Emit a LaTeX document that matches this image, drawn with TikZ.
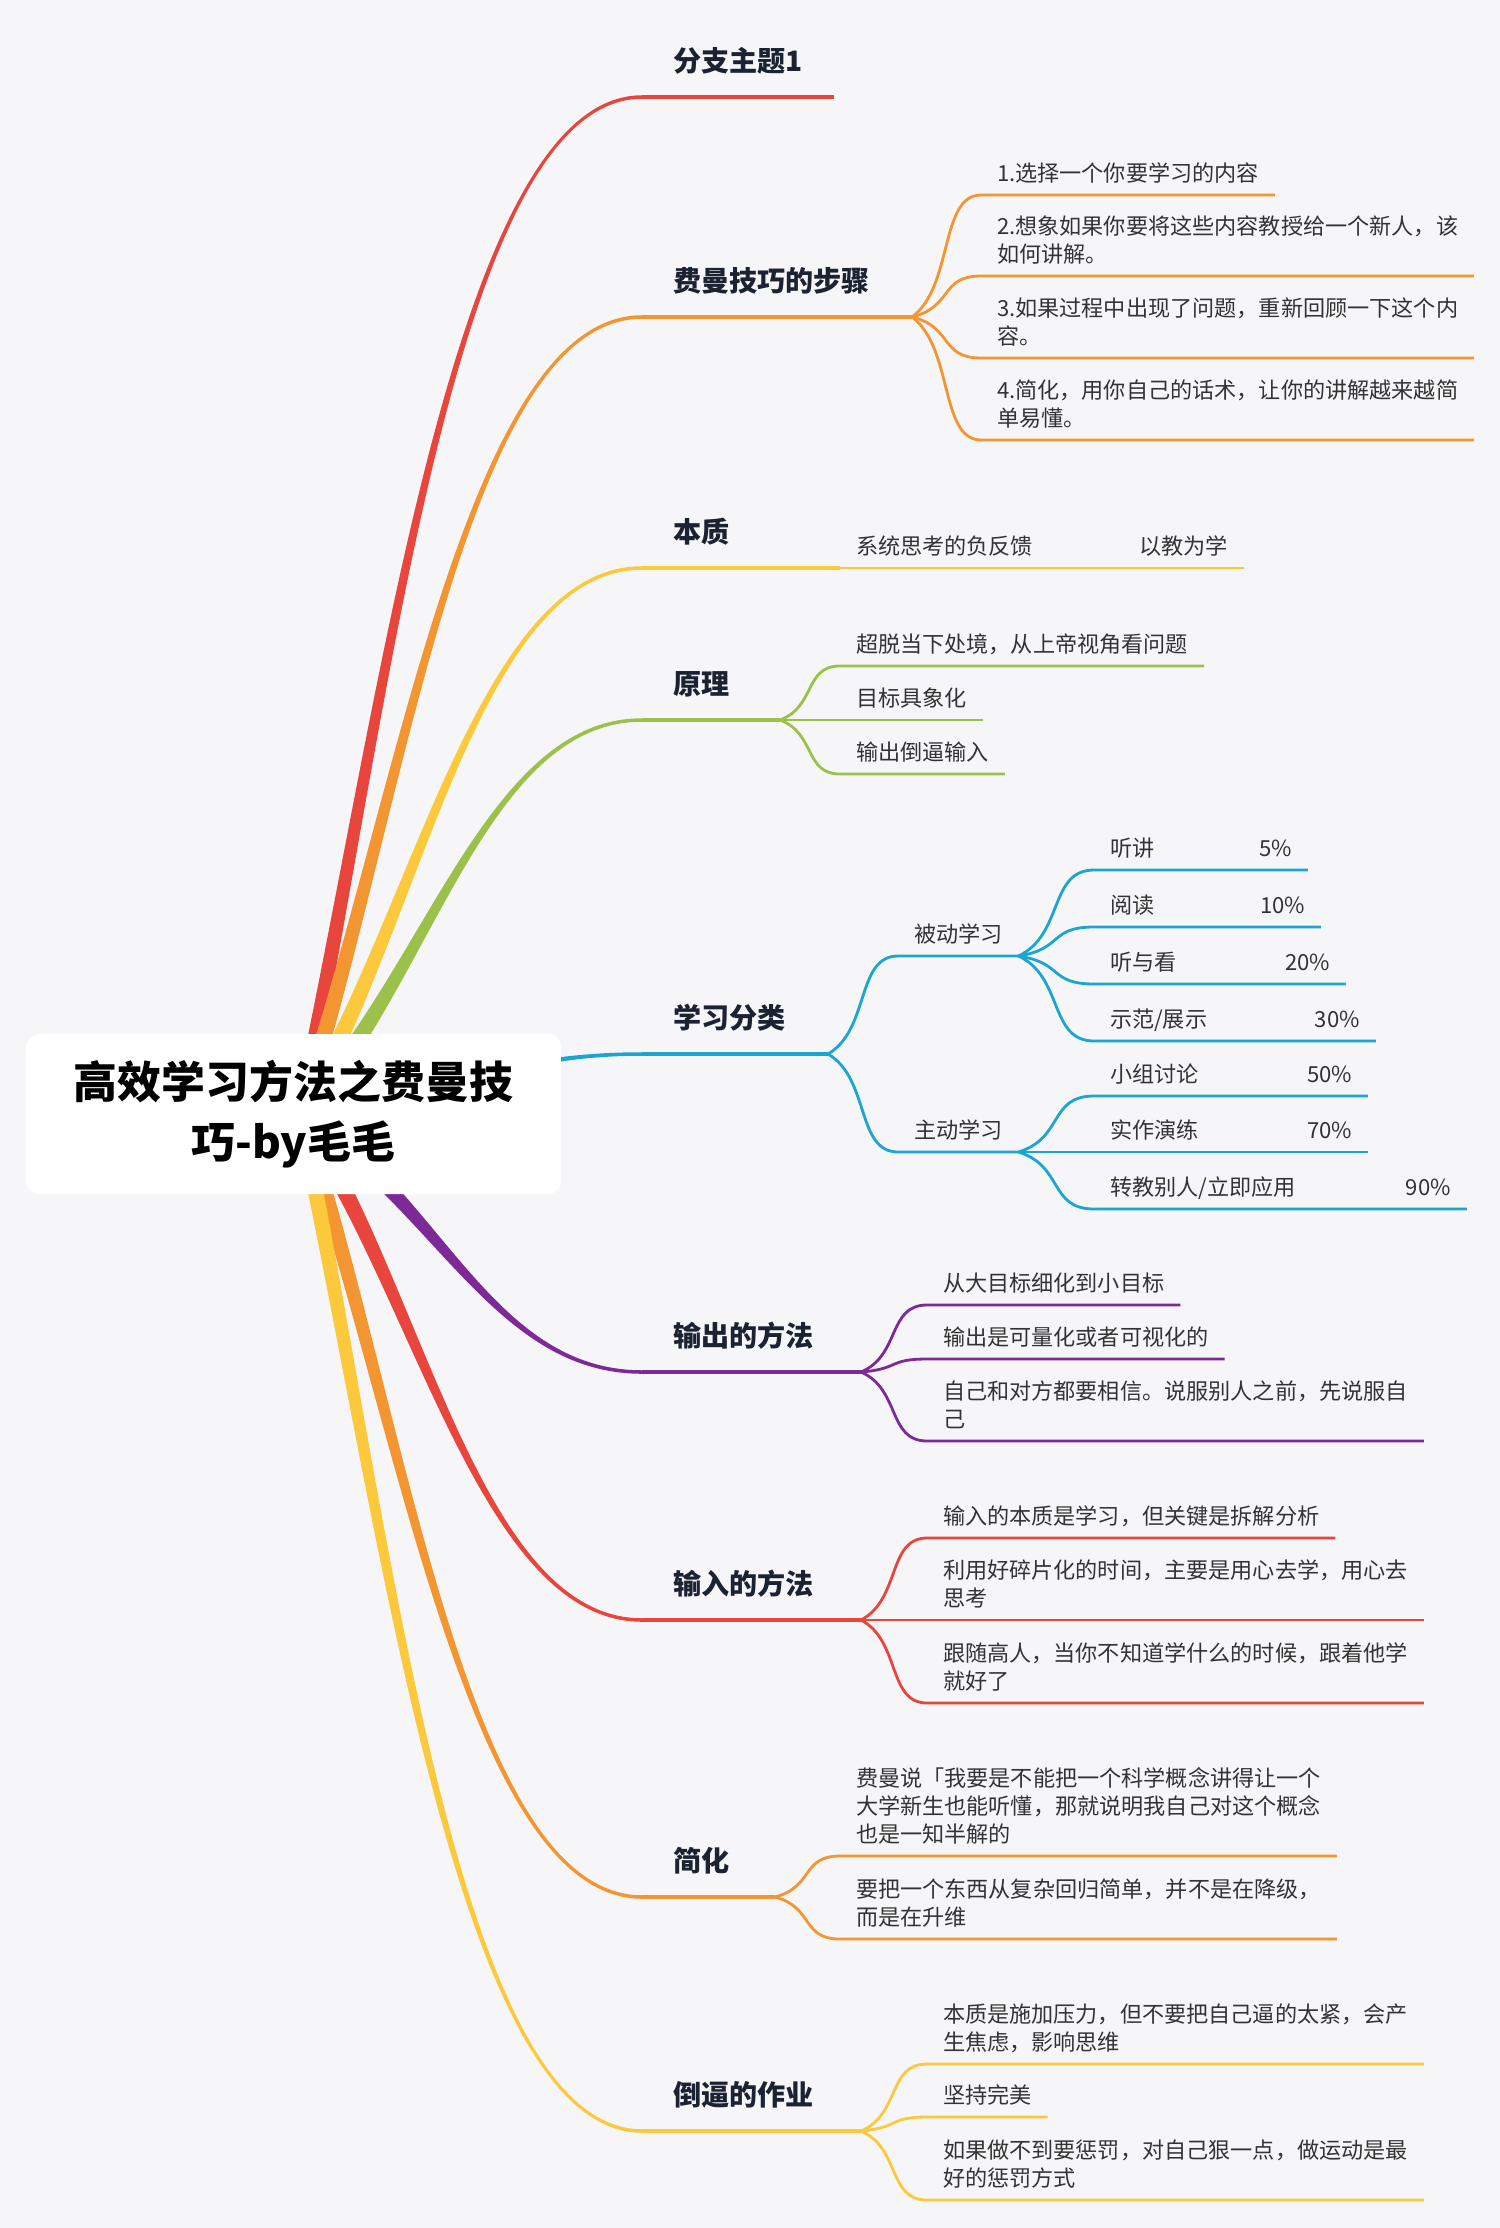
\documentclass[tikz,border=0pt]{standalone}
\usepackage{fontspec}
\setmainfont{Noto Sans CJK SC}
\usetikzlibrary{calc}
\definecolor{paper}{HTML}{F6F6F9}
\definecolor{redb}{HTML}{E8453C}
\definecolor{orangeb}{HTML}{F39530}
\definecolor{yellowb}{HTML}{FCC83C}
\definecolor{greenb}{HTML}{9CC14B}
\definecolor{tealb}{HTML}{1AA6CF}
\definecolor{purpleb}{HTML}{7D2A98}
\definecolor{ink}{HTML}{1B2333}
\definecolor{leafink}{HTML}{333333}
\begin{document}
\begin{tikzpicture}[x=0.02cm, y=-0.02cm,
  root/.style={fill=white, rounded corners=0.25cm, minimum width=10.7cm, minimum height=3.2cm,
    inner sep=0, align=center, font=\bfseries\fontsize{25}{34}\selectfont},
  branch/.style={anchor=south west, outer sep=0, inner xsep=0.62cm, inner ysep=0.39cm,
    text depth=3.2pt, text=ink, font=\bfseries\fontsize{16}{20}\selectfont},
  leaf/.style={anchor=south west, outer sep=0, inner xsep=0.32cm, inner ysep=0.18cm,
    text depth=2.5pt, align=left, text=leafink, font=\fontsize{12.6}{15.9}\selectfont},
  rate/.style={leaf, text width=#1},
  bough/.style={line width=2pt},
  sprig/.style={line width=1.6pt},
  limb/.style={to path={let \p1=(\tikztostart), \p2=(\tikztotarget), \n1={sign(\y2-\y1)},
    \n2={abs(\y2-\y1)/578.7}, \n3={0.45-0.2*\n2}, \n4={0.3+0.1*\n2}, \n5={0.6-0.15*\n2} in
    ({\x1-4pt},{\y1+\n1*4pt})
    .. controls ({\x1+\n3*(\x2-\x1)-2.6pt},{\y1+\n4*(\y2-\y1)+\n1*2.6pt}) and ({\x1+\n5*(\x2-\x1)},{\y2+\n1*1pt})
    .. ({\x2},{\y2+\n1*1pt}) -- ({\x2},{\y2-\n1*1pt})
    .. controls ({\x1+\n5*(\x2-\x1)},{\y2-\n1*1pt}) and ({\x1+\n3*(\x2-\x1)+2.6pt},{\y1+\n4*(\y2-\y1)-\n1*2.6pt})
    .. ({\x1+4pt},{\y1-\n1*4pt}) -- cycle}},
  twig/.style={to path={let \p1=(\tikztostart), \p2=(\tikztotarget) in
    .. controls ({0.4*\x1+0.6*\x2},{0.75*\y1+0.25*\y2}) and ({0.6*\x1+0.4*\x2},{\y2}) .. (\p2)}}]
\fill[paper] (0,0) rectangle (1500,2228);
\useasboundingbox (0,0) rectangle (1500,2228);

\coordinate (hub) at (300,1114);

% main topics
\node[branch] (b1) at (642,97) {分支主题1};
\node[branch] (b2) at (642,317) {费曼技巧的步骤};
\node[branch] (b3) at (642,568) {本质};
\node[branch] (b4) at (642,720) {原理};
\node[branch] (b5) at (642,1054) {学习分类};
\node[branch] (b6) at (642,1372) {输出的方法};
\node[branch] (b7) at (642,1620) {输入的方法};
\node[branch] (b8) at (642,1897) {简化};
\node[branch] (b9) at (642,2131) {倒逼的作业};

\coordinate (b2f) at (912,317);
\coordinate (b4f) at (780,720);
\coordinate (b5f) at (828,1054);
\coordinate (b6f) at (861,1372);
\coordinate (b7f) at (861,1620);
\coordinate (b8f) at (775,1897);
\coordinate (b9f) at (861,2131);

% sub topics
\node[leaf] (k21) at (981,195) {1.选择一个你要学习的内容};
\node[leaf] (k22) at (981,276) {2.想象如果你要将这些内容教授给一个新人，该\\如何讲解。};
\node[leaf] (k23) at (981,358) {3.如果过程中出现了问题，重新回顾一下这个内\\容。};
\node[leaf] (k24) at (981,440) {4.简化，用你自己的话术，让你的讲解越来越简\\单易懂。};

\node[leaf] (k31) at (840,568) {系统思考的负反馈\hspace{2.12cm}以教为学};

\node[leaf] (k41) at (840,666) {超脱当下处境，从上帝视角看问题};
\node[leaf] (k42) at (840,720) {目标具象化};
\node[leaf] (k43) at (840,774) {输出倒逼输入};

\node[leaf] (k51) at (898,956) {被动学习};
\node[leaf] (k52) at (898,1152) {主动学习};
\node[rate=3.64cm] (g1) at (1094,870) {听讲\hfill 5\%};
\node[rate=3.9cm] (g2) at (1094,927) {阅读\hfill 10\%};
\node[rate=4.4cm] (g3) at (1094,984) {听与看\hfill 20\%};
\node[rate=5.0cm] (g4) at (1094,1041) {示范/展示\hfill 30\%};
\node[rate=4.84cm] (g5) at (1094,1096) {小组讨论\hfill 50\%};
\node[rate=4.84cm] (g6) at (1094,1152) {实作演练\hfill 70\%};
\node[rate=6.82cm] (g7) at (1094,1209) {转教别人/立即应用\hfill 90\%};

\node[leaf] (k61) at (927,1305) {从大目标细化到小目标};
\node[leaf] (k62) at (927,1359) {输出是可量化或者可视化的};
\node[leaf] (k63) at (927,1441) {自己和对方都要相信。说服别人之前，先说服自\\己};

\node[leaf] (k71) at (927,1538) {输入的本质是学习，但关键是拆解分析};
\node[leaf] (k72) at (927,1620) {利用好碎片化的时间，主要是用心去学，用心去\\思考};
\node[leaf] (k73) at (927,1703) {跟随高人，当你不知道学什么的时候，跟着他学\\就好了};

\node[leaf] (k81) at (840,1856) {费曼说「我要是不能把一个科学概念讲得让一个\\大学新生也能听懂，那就说明我自己对这个概念\\也是一知半解的};
\node[leaf] (k82) at (840,1939) {要把一个东西从复杂回归简单，并不是在降级，\\而是在升维};

\node[leaf] (k91) at (927,2064) {本质是施加压力，但不要把自己逼的太紧，会产\\生焦虑，影响思维};
\node[leaf] (k92) at (927,2117) {坚持完美};
\node[leaf] (k93) at (927,2200) {如果做不到要惩罚，对自己狠一点，做运动是最\\好的惩罚方式};

% curves out of the centre
\fill[redb] (hub) to[limb] (b1.south west);
\fill[orangeb] (hub) to[limb] (b2.south west);
\fill[yellowb] (hub) to[limb] (b3.south west);
\fill[greenb] (hub) to[limb] (b4.south west);
\fill[tealb] (hub) to[limb] (b5.south west);
\fill[purpleb] (hub) to[limb] (b6.south west);
\fill[redb] (hub) to[limb] (b7.south west);
\fill[orangeb] (hub) to[limb] (b8.south west);
\fill[yellowb] (hub) to[limb] (b9.south west);

\draw[bough, redb] (b1.south west) -- (b1.south east);
\draw[bough, orangeb] (b2.south west) -- (b2f);
\draw[bough, yellowb] (b3.south west) -- (k31.south west);
\draw[bough, greenb] (b4.south west) -- (b4f);
\draw[bough, tealb] (b5.south west) -- (b5f);
\draw[bough, purpleb] (b6.south west) -- (b6f);
\draw[bough, redb] (b7.south west) -- (b7f);
\draw[bough, orangeb] (b8.south west) -- (b8f);
\draw[bough, yellowb] (b9.south west) -- (b9f);

\draw[sprig, orangeb] (b2f) to[twig] (k21.south west) -- (k21.south east);
\draw[sprig, orangeb] (b2f) to[twig] (k22.south west) -- (k22.south east);
\draw[sprig, orangeb] (b2f) to[twig] (k23.south west) -- (k23.south east);
\draw[sprig, orangeb] (b2f) to[twig] (k24.south west) -- (k24.south east);
\draw[sprig, yellowb] (k31.south west) -- (k31.south east);
\draw[sprig, greenb] (b4f) to[twig] (k41.south west) -- (k41.south east);
\draw[sprig, greenb] (b4f) to[twig] (k42.south west) -- (k42.south east);
\draw[sprig, greenb] (b4f) to[twig] (k43.south west) -- (k43.south east);
\draw[sprig, tealb] (b5f) to[twig] (k51.south west) -- (k51.south east);
\draw[sprig, tealb] (b5f) to[twig] (k52.south west) -- (k52.south east);
\draw[sprig, tealb] (k51.south east) to[twig] (g1.south west) -- (g1.south east);
\draw[sprig, tealb] (k51.south east) to[twig] (g2.south west) -- (g2.south east);
\draw[sprig, tealb] (k51.south east) to[twig] (g3.south west) -- (g3.south east);
\draw[sprig, tealb] (k51.south east) to[twig] (g4.south west) -- (g4.south east);
\draw[sprig, tealb] (k52.south east) to[twig] (g5.south west) -- (g5.south east);
\draw[sprig, tealb] (k52.south east) to[twig] (g6.south west) -- (g6.south east);
\draw[sprig, tealb] (k52.south east) to[twig] (g7.south west) -- (g7.south east);
\draw[sprig, purpleb] (b6f) to[twig] (k61.south west) -- (k61.south east);
\draw[sprig, purpleb] (b6f) to[twig] (k62.south west) -- (k62.south east);
\draw[sprig, purpleb] (b6f) to[twig] (k63.south west) -- (k63.south east);
\draw[sprig, redb] (b7f) to[twig] (k71.south west) -- (k71.south east);
\draw[sprig, redb] (b7f) to[twig] (k72.south west) -- (k72.south east);
\draw[sprig, redb] (b7f) to[twig] (k73.south west) -- (k73.south east);
\draw[sprig, orangeb] (b8f) to[twig] (k81.south west) -- (k81.south east);
\draw[sprig, orangeb] (b8f) to[twig] (k82.south west) -- (k82.south east);
\draw[sprig, yellowb] (b9f) to[twig] (k91.south west) -- (k91.south east);
\draw[sprig, yellowb] (b9f) to[twig] (k92.south west) -- (k92.south east);
\draw[sprig, yellowb] (b9f) to[twig] (k93.south west) -- (k93.south east);

% centre topic on top of the curves
\node[root] (main) at (293.5,1114) {高效学习方法之费曼技\\巧-by毛毛};
\end{tikzpicture}
\end{document}
